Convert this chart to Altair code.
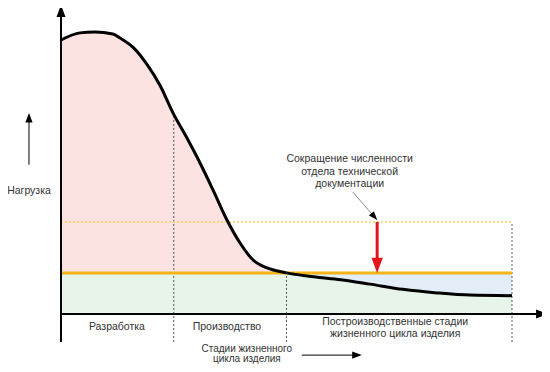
import altair as alt
import pandas as pd

# ---- data (x: lifecycle position 0..100, y: load 0..100) ----
curve_x = [0, 4.2, 7.5, 11.5, 13.1, 16.0, 19.1, 22.0, 24.8, 27.9, 30.8, 33.7, 36.8,
           39.7, 42.6, 45.7, 50.0, 56.0, 62.0, 68.5, 75.8, 83.4, 90.7, 100]
curve_y = [100, 102.6, 102.9, 102.2, 100.7, 97.3, 91.0, 83.3, 73.5, 64.3, 55.2, 45.3, 34.3,
           25.9, 19.7, 16.8, 15.0, 13.6, 12.5, 10.9, 9.0, 7.7, 6.9, 6.7]
orange_level = 15.0
dotted_level = 33.6
stage_bounds = [0, 25, 50, 100]
stage_label_x = [12.4, 36.8, 74.1, 74.1]
stage_label_y = [-4.7, -4.7, -2.9, -7.3]
stage_labels = ["Разработка", "Производство", "Построизводственные стадии",
                "жизненного цикла изделия"]
note_lines = ["Сокращение численности", "отдела технической", "документации"]
note_x = 64.0
note_y = [56.6, 51.8, 47.4]
arrow_x = 70.1
y_title = "Нагрузка"
y_title_x = -7.1
x_title_lines = ["Стадии жизненного", "цикла изделия"]
x_title_y = [-12.8, -16.5]

xs = alt.Scale(domain=[0, 100], range=[53, 504], nice=False, zero=False)
ys = alt.Scale(domain=[0, 100], range=[306, 32], nice=False, zero=False)
FONT = "Liberation Sans"


def X(f="x"):
    return alt.X(f"{f}:Q", scale=xs, axis=None)


def Y(f="y"):
    return alt.Y(f"{f}:Q", scale=ys, axis=None)


curve = pd.DataFrame({"x": curve_x, "y": curve_y})
pink_df = curve[curve.x <= 50].assign(base=orange_level)
blue_df = curve[curve.x >= 50].assign(base=orange_level)

green = alt.Chart(pd.DataFrame({"x": [0], "x2": [100], "y": [0], "y2": [orange_level]})).mark_rect(
    color="#e6f4ea").encode(x=X(), x2="x2:Q", y=Y(), y2="y2:Q")
blue = alt.Chart(blue_df).mark_area(color="#e3edf7", interpolate="monotone").encode(
    x=X(), y=Y(), y2="base:Q")
pink = alt.Chart(pink_df).mark_area(color="#fde2e2", interpolate="monotone").encode(
    x=X(), y=Y(), y2="base:Q")

# dotted dividers
div_top = [curve_y[curve_x.index(24.8)], orange_level, dotted_level]
dividers = pd.DataFrame({"x": stage_bounds[1:], "y": [-10.2] * 3, "y2": div_top})
div_layer = alt.Chart(dividers).mark_rule(color="#555555", strokeWidth=1, strokeDash=[2, 2]).encode(
    x=X(), y=Y(), y2="y2:Q")

dotted = alt.Chart(pd.DataFrame({"x": [0], "x2": [100], "y": [dotted_level]})).mark_rule(
    color="#f5cf55", strokeWidth=1.5, strokeDash=[2, 2]).encode(x=X(), x2="x2:Q", y=Y())
orange = alt.Chart(pd.DataFrame({"x": [0], "x2": [100], "y": [orange_level]})).mark_rule(
    color="#f4b41a", strokeWidth=3).encode(x=X(), x2="x2:Q", y=Y())

line = alt.Chart(curve).mark_line(color="black", strokeWidth=3, interpolate="monotone").encode(
    x=X(), y=Y())

# axes
axes_df = pd.DataFrame({"x": [0, 0], "x2": [0, 106], "y": [-10.2, 0], "y2": [110, 0]})
axes = alt.Chart(axes_df).mark_rule(color="black", strokeWidth=2).encode(
    x=X(), x2="x2:Q", y=Y(), y2="y2:Q")

# thin arrows: pointer, load arrow, stage arrow
thin_df = pd.DataFrame({
    "x": [64.7, y_title_x, 53.4], "x2": [70.1, y_title_x, 65.0],
    "y": [44.5, 54.5, -15.0], "y2": [34.3, 71.0, -15.0],
    "c": ["#8a8a8a", "black", "black"]})
thin = alt.Chart(thin_df).mark_rule(strokeWidth=1).encode(
    x=X(), x2="x2:Q", y=Y(), y2="y2:Q", color=alt.Color("c:N", scale=None))

red = alt.Chart(pd.DataFrame({"x": [arrow_x], "y": [dotted_level], "y2": [20.0]})).mark_rule(
    color="#e3141b", strokeWidth=3).encode(x=X(), y=Y(), y2="y2:Q")

HEAD = "M0,0L-0.6,-1.6L0.6,-1.6Z"
heads_df = pd.DataFrame({
    "x": [0, 108.0, arrow_x, 70.1, y_title_x, 66.7],
    "y": [112.8, 0, orange_level, 34.3, 73.4, -15.0],
    "angle": [180, 270, 0, 319.4, 180, 270],
    "size": [225, 225, 361, 121, 144, 144],
    "c": ["black", "black", "#e3141b", "black", "black", "black"]})
heads = alt.Chart(heads_df).mark_point(shape=HEAD, filled=True, opacity=1, strokeWidth=0).encode(
    x=X(), y=Y(), angle=alt.Angle("angle:Q", scale=None),
    size=alt.Size("size:Q", scale=None), color=alt.Color("c:N", scale=None))

texts_df = pd.DataFrame({
    "x": stage_label_x + [note_x] * 3 + [y_title_x],
    "y": stage_label_y + note_y + [44.9],
    "t": stage_labels + note_lines + [y_title]})
texts = alt.Chart(texts_df).mark_text(font=FONT, fontSize=10.5, color="#333333",
                                      align="center", baseline="middle").encode(
    x=X(), y=Y(), text="t:N")

xt_df = pd.DataFrame({"x": [41.2, 41.2], "y": x_title_y, "t": x_title_lines})
xtitle = alt.Chart(xt_df).mark_text(font=FONT, fontSize=10, color="#333333",
                                    align="center", baseline="middle").encode(
    x=X(), y=Y(), text="t:N")

chart = alt.layer(green, blue, pink, div_layer, dotted, orange, line, axes, thin, red, heads,
                  texts, xtitle
                  ).properties(width=534, height=356, padding=0, autosize="none",
                               background="white").configure_view(strokeWidth=0)

chart.save("out.html", embed_options={"renderer": "svg", "actions": False})
